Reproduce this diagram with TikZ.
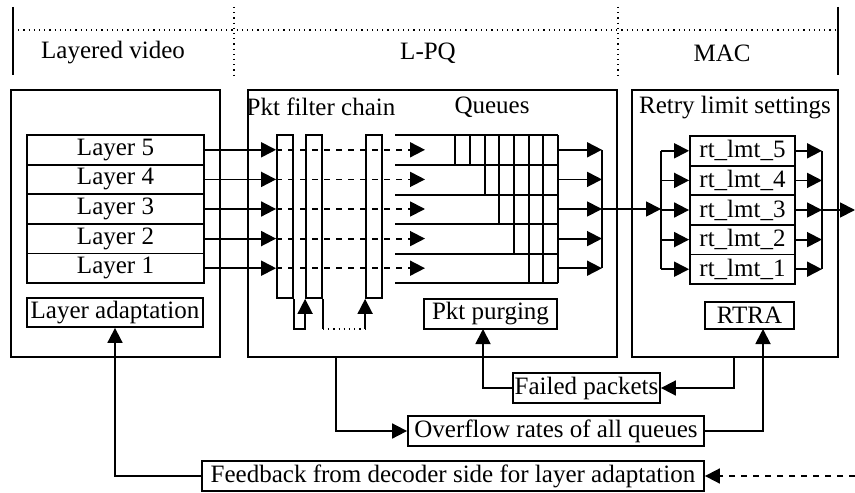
\documentclass[tikz,border=0pt]{standalone}
\usepackage{fontspec}
\setmainfont{Liberation Serif}
\usetikzlibrary{arrows.meta,fit}

\tikzset{
  box/.style={draw, inner sep=0pt},
  arr/.style={-{Triangle[length=7.5pt,width=7.5pt]}},
  sep/.style={dotted, line width=0.6pt},
}

\begin{document}
\begin{tikzpicture}[x=0.5pt,y=-0.5pt,line width=0.9pt,
  every node/.style={font=\fontsize{12.5}{14}\selectfont}]
\useasboundingbox (0,0) rectangle (855,492);
% header
\draw (13,7) -- (13,75);
\draw (838,7) -- (838,75);
\draw[sep] (13,30) -- (838,30);
\draw[sep] (234,7) -- (234,75);
\draw[sep] (618,7) -- (618,75);
\node (hvid) at (113,53) {Layered video};
\node (hlpq) at (428,53) {L-PQ};
\node (hmac) at (722,53) {MAC};

% panels
\node[box, fit={(11,90) (220,357)}] (vid) {};
\node[box, fit={(248,90) (617,357)}] (lpq) {};
\node[box, fit={(632,90) (838,357)}] (mac) {};
\node (pfc) at (321,107) {Pkt filter chain};
\node (que) at (492,107) {Queues};
\node (rls) at (735,108) {Retry limit settings};

% layers and retry limits
\foreach \i in {1,...,5} {
  \pgfmathsetmacro\yt{135+(5-\i)*29.6}
  \node[box, fit={(27,\yt) (204,\yt+29.6)}, label={center:Layer \i}] (l\i) {};
  \node[box, fit={(690,\yt+1) (795,\yt+30.6)}, label={center:rt\_lmt\_\i}] (r\i) {};
}

% filter chain
\node[box, fit={(277,135) (293,298)}] (f1) {};
\node[box, fit={(306,135) (322,298)}] (f2) {};
\node[box, fit={(366,135) (382,298)}] (f3) {};
\draw[arr] (f1.south east) -- ++(0,30) -| (f2.south west);
\draw (f2.south east) -- ++(0,30) coordinate (fc);
\draw[sep] (fc) -- (fc -| f3.west);
\draw[arr] (fc -| f3.west) -- (f3.south west);

% queues
\foreach \y in {135,165,195,224,254,283} \draw (395,\y) -- (558,\y);
\draw (558,135) -- (558,283);
\foreach \x/\yb in {455/165,470/165,485/195,499/224,514/254,529/283,543/283}
  \draw (\x,135) -- (\x,\yb);

\coordinate (qx) at (425,0);
\coordinate (qr) at (558,0);
\coordinate (qm) at (602,0);
\coordinate (ms) at (661,0);
\coordinate (mo) at (822,0);
\coordinate (xo) at (855,0);
\foreach \i in {1,...,5} {
  \draw[arr] (l\i.east) -- (l\i.east -| f1.west);
  \draw[dashed, arr] (l\i.east -| f1.west) -- (l\i.east -| qx);
  \draw[arr] (l\i.east -| qr) -- (l\i.east -| qm);
  \draw[arr] (r\i.west -| ms) -- (r\i.west);
  \draw[arr] (r\i.east) -- (r\i.east -| mo);
}
\draw (l5.east -| qm) -- (l1.east -| qm);
\draw[arr] (l3.east -| qm) -- (l3.east -| ms);
\draw (r5.west -| ms) -- (r1.west -| ms);
\draw (r5.east -| mo) -- (r1.east -| mo);
\draw[arr] (r3.east -| mo) -- (r3.east -| xo);

% lower boxes
\node[box, fit={(27,298) (203,327)}, label={center:Layer adaptation}] (adapt) {};
\node[box, fit={(424,299) (557,329)}, label={center:Pkt purging}] (purge) {};
\node[box, fit={(705,302) (794,329)}, label={center:RTRA}] (rtra) {};
\node[box, fit={(513,373) (660,403)}, label={center:Failed packets}] (fail) {};
\node[box, fit={(408,416) (704,446)}, label={center:Overflow rates of all queues}] (ovf) {};
\node[box, fit={(202,461) (704,491)}, label={center:Feedback from decoder side for layer adaptation}] (fb) {};

% feedback paths
\coordinate (ovsrc) at (336,357);
\coordinate (rtin) at (763,329);
\coordinate (macout) at (734,358);
\coordinate (pgin) at (483,329);
\coordinate (dec) at (855,476);
\draw[arr] (ovsrc) |- (ovf.west);
\draw[arr] (ovf.east) -| (rtin);
\draw[arr] (macout) |- (fail.east);
\draw[arr] (fail.west) -| (pgin);
\draw[arr] (fb.west) -| (adapt.south);
\draw[dashed, arr] (dec) -- (fb.east);
\end{tikzpicture}
\end{document}
